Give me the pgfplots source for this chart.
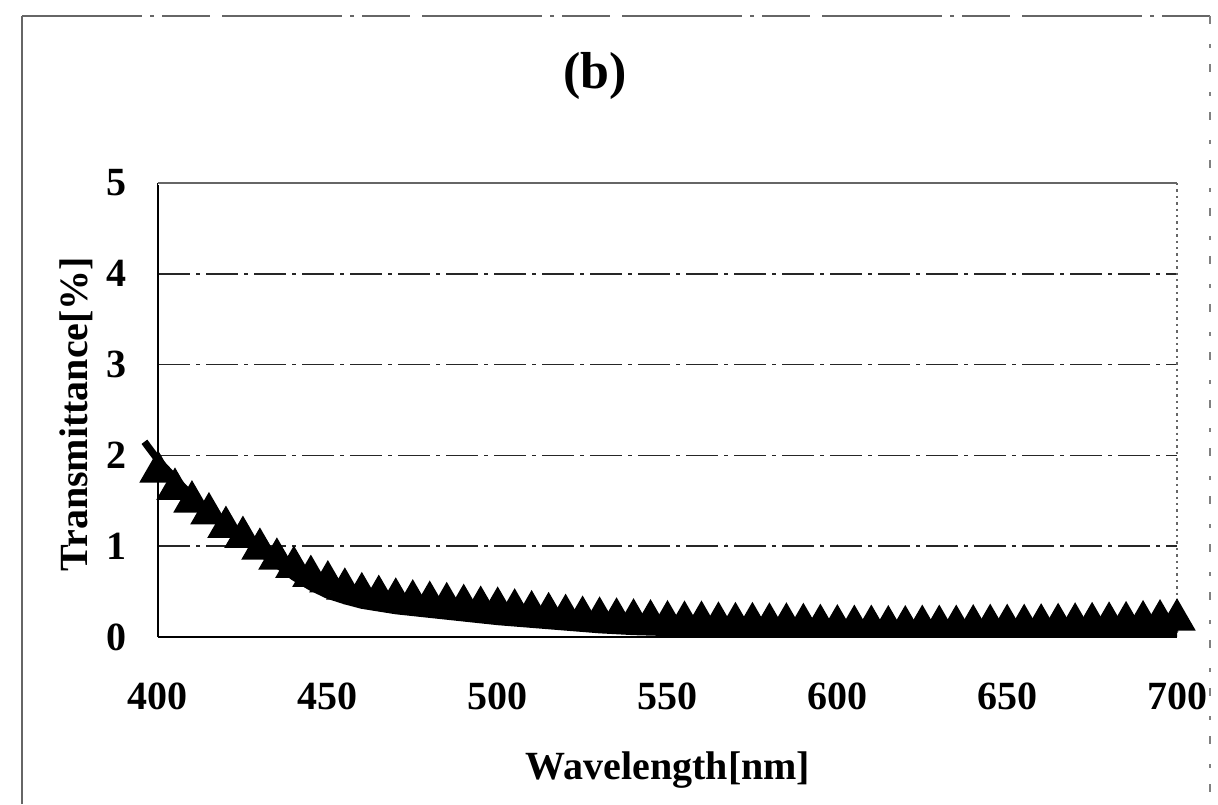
\documentclass[border=0pt]{standalone}
\usepackage{fontspec}
\setmainfont{Liberation Serif}
\usepackage{pgfplots}
\pgfplotsset{compat=1.18}

% triangles: measured, line: lower curve
\pgfplotstableread{
x y
400 1.82
405 1.63
410 1.49
415 1.36
420 1.21
425 1.10
430 0.97
435 0.86
440 0.77
445 0.67
450 0.61
455 0.53
460 0.48
465 0.45
470 0.42
475 0.40
480 0.385
485 0.37
490 0.35
495 0.33
500 0.32
505 0.30
510 0.28
515 0.26
520 0.24
525 0.22
530 0.21
535 0.20
540 0.19
545 0.18
550 0.17
555 0.165
560 0.165
565 0.155
570 0.15
575 0.15
580 0.145
585 0.145
590 0.14
595 0.13
600 0.125
605 0.12
610 0.12
615 0.115
620 0.115
625 0.12
630 0.12
635 0.12
640 0.125
645 0.13
650 0.13
655 0.13
660 0.135
665 0.14
670 0.145
675 0.15
680 0.155
685 0.16
690 0.17
695 0.18
700 0.19
}\tri

\pgfplotstableread{
x y
396 2.15
400 1.95
410 1.55
420 1.20
430 0.93
435 0.80
440 0.66
445 0.55
450 0.46
455 0.40
460 0.35
470 0.29
480 0.25
490 0.21
500 0.17
510 0.14
520 0.11
530 0.08
540 0.06
550 0.05
570 0.04
600 0.04
620 0.03
650 0.035
700 0.04
}\curve

\begin{document}
\begin{tikzpicture}
\useasboundingbox (0,0) rectangle (304.5pt,201pt);
% outer frame of the scanned figure
\draw[black!60, line width=0.4pt] (5.5pt,0) -- (5.5pt,197pt);
\draw[black!60, line width=0.4pt, dash pattern={on 30pt off 2pt on 1pt off 2pt on 12pt off 3pt}] (5.5pt,197pt) -- (302.5pt,197pt);
\draw[black!50, line width=0.4pt, dash pattern={on 2pt off 5pt on 1pt off 4pt}] (302.5pt,197pt) -- (302.5pt,0);
\begin{axis}[
  at={(39.5pt,41.75pt)}, anchor=south west,
  scale only axis, width=254.75pt, height=113.5pt,
  xmin=400, xmax=700, ymin=0, ymax=5,
  xtick={400,450,...,700}, ytick={0,1,...,5},
  axis x line*=bottom, axis y line*=left,
  axis line style={black, line width=0.7pt, -},
  major tick length=0pt,
  ymajorgrids, grid style={black!85, line width=0.4pt, dash pattern={on 8pt off 1.5pt on 1pt off 1.5pt}},
  /pgf/number format/assume math mode=true,
  tick label style={font=\fontsize{10}{12}\selectfont\bfseries},
  xticklabel style={anchor=center, yshift=-14.75pt},
  yticklabel style={anchor=center, xshift=-10.25pt},
  xlabel={Wavelength[nm]}, ylabel={Transmittance[\%]},
  label style={font=\fontsize{10}{12}\selectfont\bfseries},
  xlabel style={at={(axis description cs:0.5005,-0.293)}, anchor=center},
  ylabel style={at={(axis description cs:-0.0805,0.491)}, anchor=center},
  title={(b)}, title style={at={(axis description cs:0.429,1.183)}, anchor=center, font=\fontsize{13}{15}\selectfont\bfseries},
  clip=false,
]
\draw[white, line width=1.2pt] (rel axis cs:0,1) -- (rel axis cs:1,1);
\draw[black!60, line width=0.6pt] (rel axis cs:0,1) -- (rel axis cs:1,1);
\draw[black!60, line width=0.6pt, densely dotted] (rel axis cs:1,1) -- (rel axis cs:1,0);
\addplot[only marks, mark=triangle*, mark size=5pt, black, mark options={fill=black}] table {\tri};
\addplot[black, line width=1.8pt, no marks] table {\curve};
\end{axis}
\end{tikzpicture}
\end{document}
